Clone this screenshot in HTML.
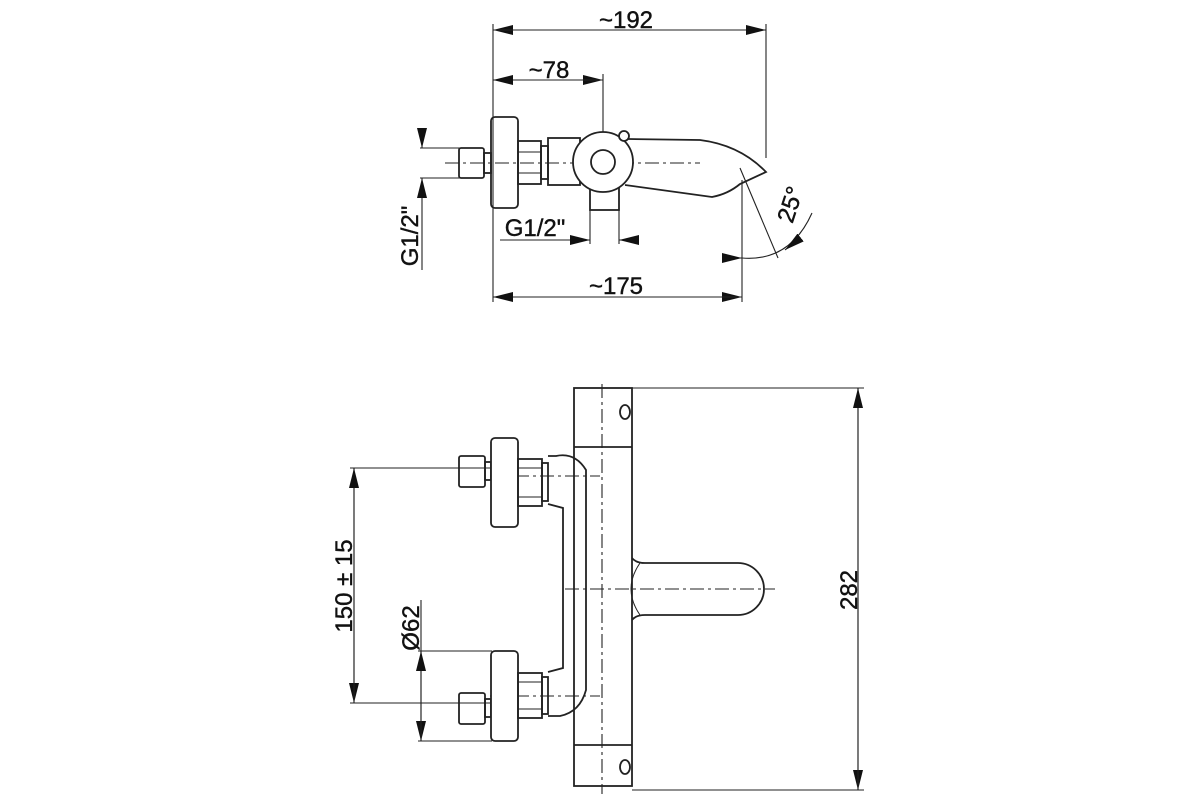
<!DOCTYPE html>
<html><head><meta charset="utf-8"><style>html,body{margin:0;padding:0;background:#fff}svg{display:block}text{font-family:"Liberation Sans",sans-serif;font-size:24px;fill:#111;stroke:#111;stroke-width:0.4}</style></head><body>
<svg width="1200" height="800" viewBox="0 0 1200 800" xmlns="http://www.w3.org/2000/svg">
<defs>
<marker id="a" viewBox="0 0 20 10" refX="20" refY="5" markerWidth="20" markerHeight="10" markerUnits="userSpaceOnUse" orient="auto"><path d="M0,0L20,5L0,10z" fill="#111"/></marker>
</defs>
<g fill="none" stroke="#222" stroke-width="1.8">
<g stroke-width="1.1">
<line x1="493" y1="24" x2="493" y2="302"/>
<line x1="766" y1="24" x2="766" y2="158"/>
<line x1="603" y1="74" x2="603" y2="135"/>
<line x1="742" y1="180" x2="742" y2="302"/>
<line x1="420" y1="148" x2="460" y2="148"/>
<line x1="420" y1="178" x2="460" y2="178"/>
<line x1="590" y1="210" x2="590" y2="244"/>
<line x1="619" y1="210" x2="619" y2="244"/>
<line x1="740" y1="168" x2="778" y2="258"/>
<line x1="445" y1="163" x2="700" y2="163" stroke-dasharray="14 4 3 4"/>
</g>
<g stroke-width="1.1">
<line x1="493" y1="80" x2="603" y2="80" marker-end="url(#a)"/>
<line x1="603" y1="80" x2="493" y2="80" marker-end="url(#a)"/>
<line x1="766" y1="30" x2="493" y2="30" marker-end="url(#a)"/>
<line x1="493" y1="30" x2="766" y2="30" marker-end="url(#a)"/>
<line x1="493" y1="297" x2="742" y2="297" marker-end="url(#a)"/>
<line x1="742" y1="297" x2="493" y2="297" marker-end="url(#a)"/>
<line x1="422" y1="128" x2="422" y2="148" marker-end="url(#a)"/>
<line x1="422" y1="270" x2="422" y2="178" marker-end="url(#a)"/>
<line x1="500" y1="240" x2="590" y2="240" marker-end="url(#a)"/>
<line x1="637" y1="240" x2="619" y2="240" marker-end="url(#a)"/>
<line x1="722" y1="258" x2="742" y2="258" marker-end="url(#a)"/>
<path d="M742,258 Q790,262 812,213"/>
<line x1="800" y1="238" x2="785" y2="250" marker-end="url(#a)"/>
</g>
<rect x="459" y="148" width="25" height="30" rx="2"/>
<rect x="484" y="153" width="7" height="20"/>
<rect x="491" y="117" width="27" height="91" rx="4"/>
<rect x="518" y="141" width="23" height="43"/>
<line x1="518" y1="152" x2="541" y2="152" stroke-width="1"/>
<line x1="518" y1="173" x2="541" y2="173" stroke-width="1"/>
<rect x="541" y="146" width="7" height="33"/>
<rect x="548" y="138" width="32" height="47"/>
<rect x="590" y="185" width="29" height="25"/>
<path d="M628,139 L700,140 Q740,145 766,172 L740,184 Q728,194 712,197 L625,185"/>
<circle cx="603" cy="162" r="30" fill="#fff"/>
<circle cx="603" cy="162" r="12"/>
<circle cx="624" cy="136" r="5" fill="#fff"/>
<g stroke-width="1.1">
<line x1="632" y1="388" x2="864" y2="388"/>
<line x1="632" y1="790" x2="864" y2="790"/>
<line x1="858" y1="388" x2="858" y2="790" marker-end="url(#a)"/>
<line x1="858" y1="790" x2="858" y2="388" marker-end="url(#a)"/>
<line x1="350" y1="468" x2="490" y2="468"/>
<line x1="350" y1="703" x2="490" y2="703"/>
<line x1="354" y1="468" x2="354" y2="703" marker-end="url(#a)"/>
<line x1="354" y1="703" x2="354" y2="468" marker-end="url(#a)"/>
<line x1="418" y1="651" x2="492" y2="651"/>
<line x1="418" y1="741" x2="492" y2="741"/>
<line x1="421" y1="600" x2="421" y2="741" marker-end="url(#a)"/>
<line x1="421" y1="741" x2="421" y2="651" marker-end="url(#a)"/>
<line x1="602" y1="384" x2="602" y2="794" stroke-dasharray="14 4 3 4"/>
<line x1="565" y1="589" x2="775" y2="589" stroke-dasharray="14 4 3 4"/>
<line x1="490" y1="476" x2="600" y2="476" stroke-dasharray="14 4 3 4"/>
<line x1="490" y1="696" x2="600" y2="696" stroke-dasharray="14 4 3 4"/>
</g>
<rect x="574" y="388" width="58" height="398"/>
<line x1="574" y1="447" x2="632" y2="447"/>
<line x1="574" y1="745" x2="632" y2="745"/>
<ellipse cx="625" cy="412" rx="5" ry="7"/>
<ellipse cx="625" cy="767" rx="5" ry="7"/>
<path d="M632,558 Q636,563 645,563 L738,563 A26,26 0 0 1 738,615 L645,615 Q636,615 632,620"/>
<path d="M640,563 Q622,589 640,615" stroke-width="1"/>
<path d="M548,456 L556,456 Q575,452 586,470 L586,690 Q580,712 560,716 L548,716"/>
<path d="M548,504 L563,508 L563,668 L548,672"/>
<rect x="459" y="456" width="26" height="31" rx="2"/>
<rect x="485" y="462" width="6" height="18"/>
<rect x="491" y="438" width="27" height="89" rx="4" fill="#fff"/>
<rect x="518" y="459" width="24" height="47"/>
<line x1="518" y1="468" x2="542" y2="468" stroke-width="1"/>
<line x1="518" y1="497" x2="542" y2="497" stroke-width="1"/>
<rect x="542" y="463" width="6" height="38"/>
<rect x="459" y="693" width="26" height="31" rx="2"/>
<rect x="485" y="699" width="6" height="18"/>
<rect x="491" y="651" width="27" height="90" rx="4" fill="#fff"/>
<rect x="518" y="673" width="24" height="45"/>
<line x1="518" y1="682" x2="542" y2="682" stroke-width="1"/>
<line x1="518" y1="709" x2="542" y2="709" stroke-width="1"/>
<rect x="542" y="677" width="6" height="37"/>
</g>
<text x="626" y="28" text-anchor="middle">~192</text>
<text x="549" y="78" text-anchor="middle">~78</text>
<text x="535" y="236" text-anchor="middle">G1/2"</text>
<text x="616" y="294" text-anchor="middle">~175</text>
<text transform="translate(418,236) rotate(-90)" text-anchor="middle">G1/2"</text>
<text transform="translate(798,207) rotate(-72)" text-anchor="middle">25°</text>
<text transform="translate(352,586) rotate(-90)" text-anchor="middle">150 ± 15</text>
<text transform="translate(419,628) rotate(-90)" text-anchor="middle">Ø62</text>
<text transform="translate(857,590) rotate(-90)" text-anchor="middle">282</text>
</svg>
</body></html>
